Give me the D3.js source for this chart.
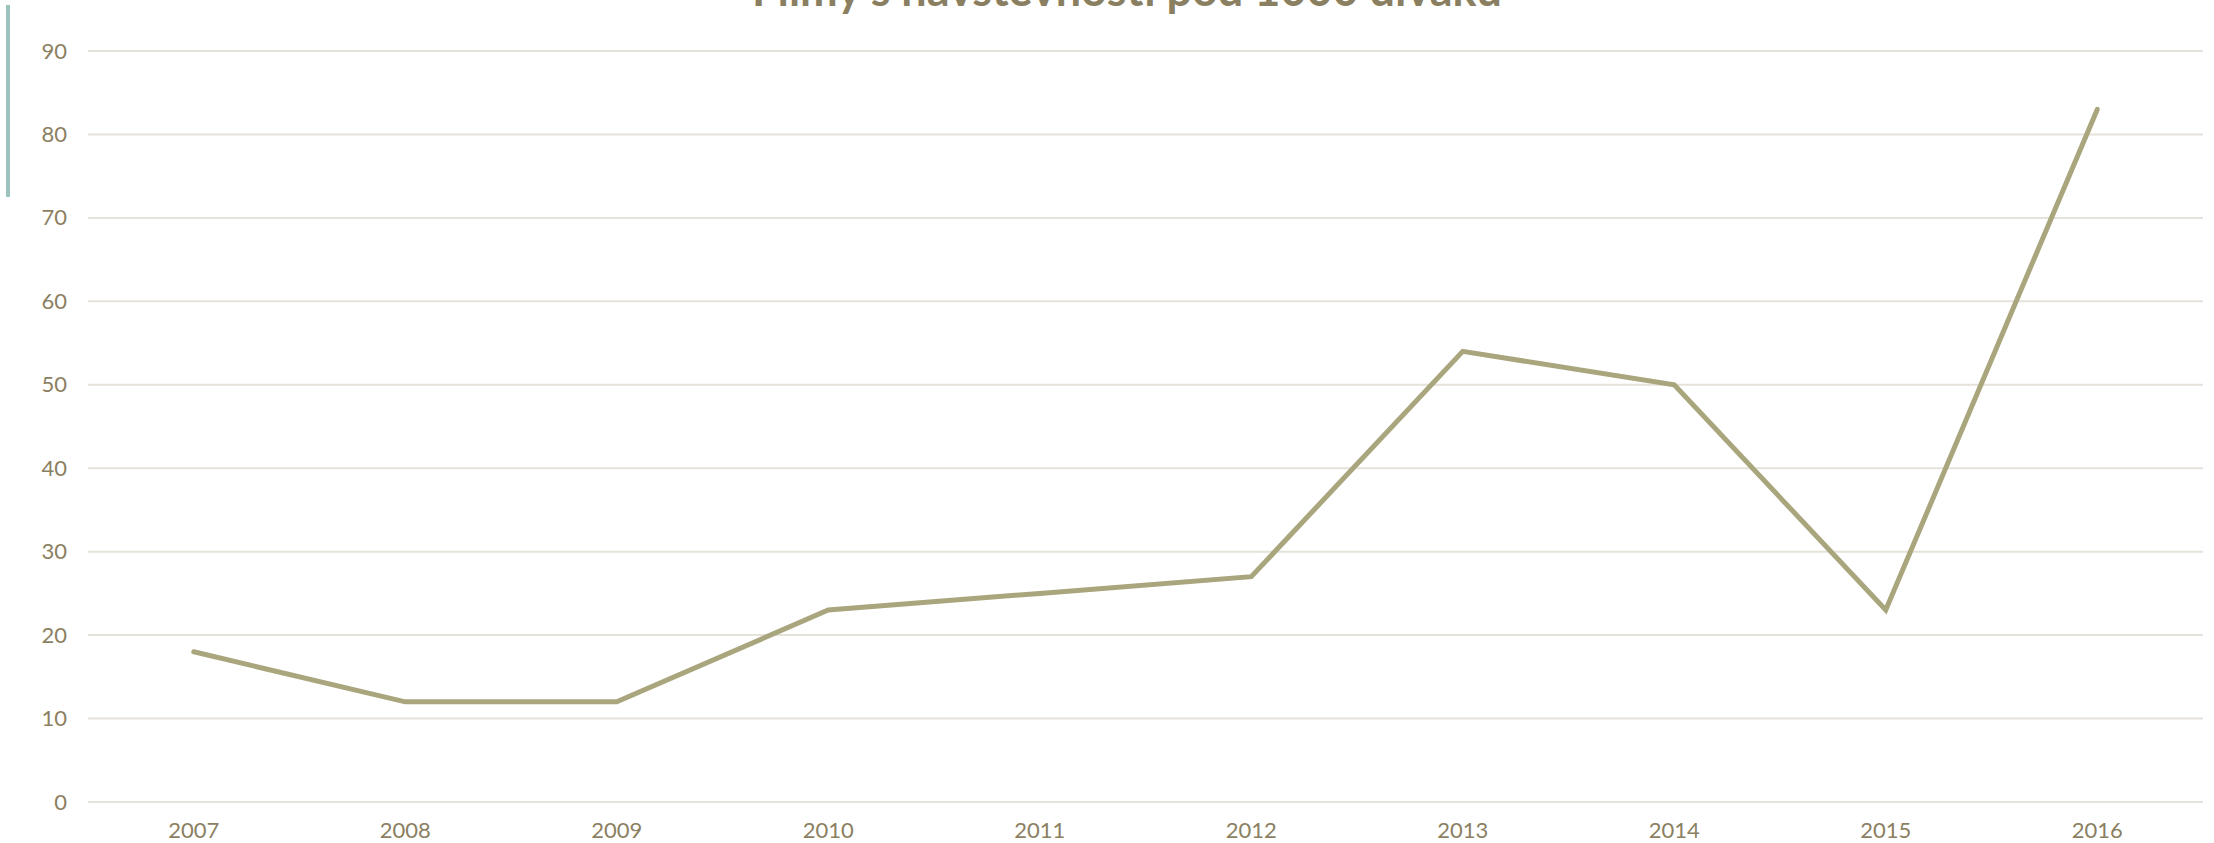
<!DOCTYPE html>
<html>
<head>
<meta charset="utf-8">
<script src="https://cdn.jsdelivr.net/npm/d3@7"></script>
<style>
  html, body { margin: 0; padding: 0; background: #fff; }
  svg { display: block; }
</style>
</head>
<body>
<div id="chart"></div>
<script>
const years = ["2007", "2008", "2009", "2010", "2011", "2012", "2013", "2014", "2015", "2016"];
const films = [18, 12, 12, 23, 25, 27, 54, 50, 23, 83];
const yTicks = [0, 10, 20, 30, 40, 50, 60, 70, 80, 90];
const title = "Filmy s návštěvností pod 1000 diváků";

const width = 2214, height = 843;
const margin = { top: 51, right: 11, bottom: 41, left: 88 };
const textColor = "#8b7f62";
const fontFamily = "Lato, 'Open Sans', sans-serif";

const svg = d3.select("#chart")
    .append("svg")
    .attr("width", width)
    .attr("height", height);

// left accent bar
svg.append("rect")
    .attr("x", 6)
    .attr("y", 5)
    .attr("width", 4)
    .attr("height", 192)
    .attr("fill", "#9cc3bd");

const x = d3.scaleBand()
    .domain(years)
    .range([margin.left, width - margin.right]);

const y = d3.scaleLinear()
    .domain([0, 90])
    .range([height - margin.bottom, margin.top]);

// gridlines
svg.append("g")
    .selectAll("line")
    .data(yTicks)
    .join("line")
    .attr("x1", margin.left)
    .attr("x2", width - margin.right)
    .attr("y1", d => y(d))
    .attr("y2", d => y(d))
    .attr("stroke", "#e5e2d9")
    .attr("stroke-width", 2);

// y axis
const yAxis = svg.append("g")
    .attr("transform", `translate(${margin.left},0)`)
    .call(d3.axisLeft(y).tickValues(yTicks).tickSize(0).tickPadding(21));
yAxis.select(".domain").remove();
yAxis.selectAll("text")
    .attr("fill", textColor)
    .style("font-family", fontFamily)
    .style("font-size", "22px");

// x axis
const xAxis = svg.append("g")
    .attr("transform", `translate(0,${height - margin.bottom})`)
    .call(d3.axisBottom(x).tickSize(0).tickPadding(20));
xAxis.select(".domain").remove();
xAxis.selectAll("text")
    .attr("fill", textColor)
    .style("font-family", fontFamily)
    .style("font-size", "22px");

// line
const line = d3.line()
    .x((d, i) => x(years[i]) + x.bandwidth() / 2)
    .y(d => y(d));

svg.append("path")
    .datum(films)
    .attr("d", line)
    .attr("fill", "none")
    .attr("stroke", "#a9a57d")
    .attr("stroke-width", 5)
    .attr("stroke-linecap", "round")
    .attr("stroke-linejoin", "miter");

// title (clipped at top like the original)
const t = svg.append("text")
    .attr("x", 1127)
    .attr("y", 6)
    .attr("text-anchor", "middle")
    .attr("fill", textColor)
    .style("font-family", fontFamily)
    .style("font-weight", "bold")
    .style("font-size", "34px")
    .text(title);
const w = t.node().getComputedTextLength();
t.style("font-size", (34 * 750 / w) + "px");
</script>
</body>
</html>
